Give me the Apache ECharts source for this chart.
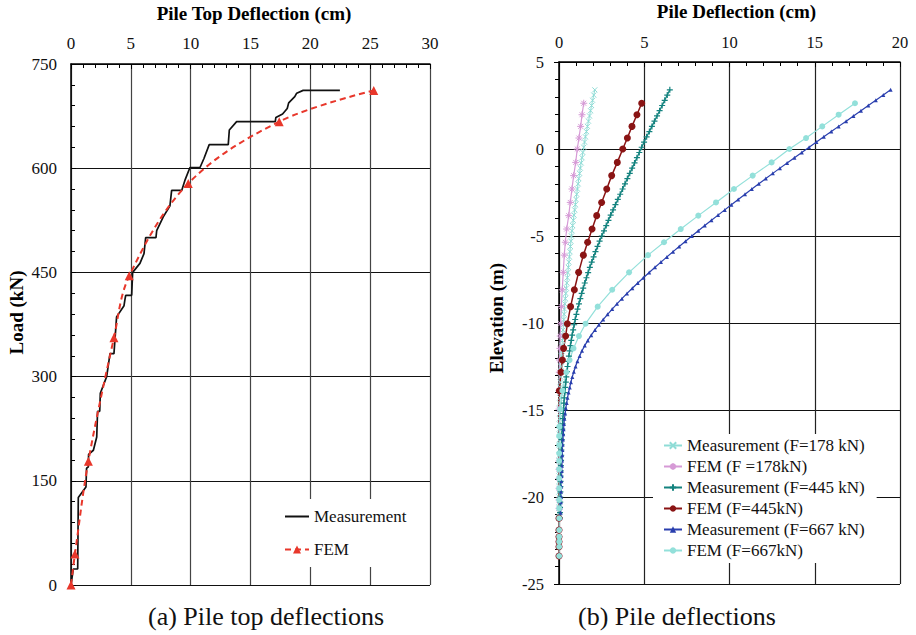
<!DOCTYPE html>
<html>
<head>
<meta charset="utf-8">
<script src="https://cdn.jsdelivr.net/npm/echarts@6/dist/echarts.min.js"></script>
<style>
html,body{margin:0;padding:0;background:#fff;}
#chart{width:916px;height:635px;}
</style>
</head>
<body>
<div id="chart"></div>
<script>
// ---------- (a) Pile top deflections ----------
const topMeasDefl = [0, 0.19, 0.56, 0.61, 1.25, 1.30, 1.45, 1.47, 1.87, 2.15, 2.22, 2.40, 2.45, 2.98, 3.26, 3.59, 3.81, 4.43, 4.50, 4.57, 5.07, 5.15, 5.76, 6.10, 6.24, 7.10, 7.16, 7.71, 8.27, 8.41, 9.25, 9.55, 9.94, 10.78, 11.11, 11.55, 13.14, 13.23, 13.84, 17.07, 17.12, 17.68, 18.07, 18.19, 18.70, 18.86, 19.40, 22.47];
const topMeasLoad = [0, 23, 23, 126, 141, 168, 170, 188, 194, 213, 250, 250, 276, 300, 333, 333, 386, 402, 410, 417, 417, 450, 463, 477, 500, 500, 510, 530, 546, 568, 568, 584, 601, 601, 614, 634, 634, 655, 667, 667, 673, 678, 686, 694, 703, 708, 712, 712];
const topFemDefl = [0, 0.33, 1.45, 3.59, 4.87, 9.8, 17.4, 25.3];
const topFemLoad = [0, 44.5, 178, 356, 445, 578, 667, 712];
const topXTicks = [0, 5, 10, 15, 20, 25, 30];
const topYTicks = [0, 150, 300, 450, 600, 750];

// ---------- (b) Pile deflections ----------
const measElev = [3.4, 3.1, 2.8, 2.5, 2.2, 1.9, 1.6, 1.3, 1.0, 0.7,
  0.4, 0.1, -0.2, -0.5, -0.8, -1.1, -1.4, -1.7, -2.0, -2.3,
  -2.6, -2.9, -3.2, -3.5, -3.8, -4.1, -4.4, -4.7, -5.0, -5.3,
  -5.6, -5.9, -6.2, -6.5, -6.8, -7.1, -7.4, -7.7, -8.0, -8.3,
  -8.6, -8.9, -9.2, -9.5, -9.8, -10.1, -10.4, -10.7, -11.0, -11.3,
  -11.6, -11.9, -12.2, -12.5, -12.8, -13.1, -13.4, -13.7, -14.0, -14.3,
  -14.6, -14.9, -15.2, -15.5, -15.8, -16.1, -16.4, -16.7, -17.0, -17.3,
  -17.6, -17.9, -18.2, -18.5, -18.8, -19.1, -19.4, -19.7, -20.0, -20.3,
  -20.6, -20.9, -21.2];
const meas178 = [2.10, 2.04, 1.97, 1.91, 1.85, 1.79, 1.73, 1.67, 1.61, 1.55,
  1.50, 1.45, 1.40, 1.35, 1.30, 1.25, 1.21, 1.16, 1.12, 1.08,
  1.04, 1.00, 0.96, 0.92, 0.88, 0.84, 0.80, 0.76, 0.73, 0.70,
  0.67, 0.64, 0.61, 0.58, 0.55, 0.52, 0.49, 0.46, 0.43, 0.40,
  0.37, 0.34, 0.32, 0.30, 0.28, 0.26, 0.24, 0.22, 0.20, 0.18,
  0.17, 0.15, 0.14, 0.12, 0.11, 0.09, 0.08, 0.07, 0.06, 0.05,
  0.04, 0.04, 0.03, 0.03, 0.02, 0.02, 0.02, 0.02, 0.02, 0.02,
  0.01, 0.01, 0.01, 0.01, 0.01, 0.01, 0.01, 0.01, 0.01, 0.01,
  0.01, 0.01, 0.01];
const meas445 = [6.50, 6.35, 6.20, 6.05, 5.90, 5.75, 5.60, 5.45, 5.30, 5.14,
  4.99, 4.85, 4.71, 4.57, 4.43, 4.29, 4.15, 4.01, 3.87, 3.73,
  3.59, 3.45, 3.31, 3.17, 3.03, 2.90, 2.77, 2.64, 2.51, 2.38,
  2.26, 2.14, 2.03, 1.92, 1.81, 1.71, 1.61, 1.51, 1.42, 1.33,
  1.25, 1.17, 1.09, 1.02, 0.95, 0.89, 0.83, 0.77, 0.72, 0.67,
  0.62, 0.58, 0.54, 0.50, 0.46, 0.43, 0.40, 0.37, 0.34, 0.31,
  0.29, 0.27, 0.25, 0.23, 0.21, 0.19, 0.17, 0.16, 0.15, 0.14,
  0.13, 0.12, 0.11, 0.10, 0.09, 0.09, 0.08, 0.08, 0.07, 0.07,
  0.06, 0.06, 0.05];
const meas667 = [19.45, 19.02, 18.58, 18.14, 17.71, 17.27, 16.84, 16.40, 15.97, 15.53,
  15.10, 14.67, 14.24, 13.81, 13.38, 12.96, 12.54, 12.13, 11.72, 11.31,
  10.91, 10.51, 10.11, 9.72, 9.33, 8.94, 8.55, 8.17, 7.79, 7.42,
  7.05, 6.69, 6.33, 5.98, 5.63, 5.29, 4.95, 4.62, 4.30, 3.99,
  3.69, 3.40, 3.12, 2.85, 2.59, 2.34, 2.11, 1.89, 1.69, 1.51,
  1.35, 1.21, 1.08, 0.97, 0.87, 0.78, 0.70, 0.63, 0.56, 0.50,
  0.45, 0.40, 0.36, 0.32, 0.29, 0.27, 0.25, 0.23, 0.21, 0.20,
  0.19, 0.18, 0.17, 0.16, 0.15, 0.14, 0.13, 0.12, 0.12, 0.11,
  0.10, 0.10, 0.09];
const femElev = [2.63, 1.97, 1.30, 0.63, 0, -0.77, -1.53, -2.30, -3.07, -3.83,
  -4.60, -5.36, -6.10, -7.09, -8.09, -9.06, -10.04, -10.75, -11.46, -12.13,
  -12.83, -13.89, -14.95, -15.96, -16.49, -17.01, -17.49, -17.93, -18.41, -18.93,
  -19.50, -20.17, -20.65, -21.22, -21.90, -22.28, -22.57, -22.86, -23.39];
const fem178 = [1.45, 1.35, 1.27, 1.17, 1.07, 0.98, 0.86, 0.76, 0.66, 0.57,
  0.45, 0.37, 0.31, 0.25, 0.19, 0.14, 0.10, 0.07, 0.05, 0.03,
  0.02, 0.01, 0, -0.01, -0.01, -0.01, -0.01, 0, 0, 0,
  0, 0, 0, 0, 0, 0, 0, 0, 0];
const fem445 = [4.85, 4.57, 4.28, 4.01, 3.74, 3.42, 3.09, 2.80, 2.50, 2.21,
  1.94, 1.68, 1.43, 1.15, 0.90, 0.68, 0.49, 0.39, 0.27, 0.20,
  0.12, 0.02, -0.06, -0.08, -0.07, -0.06, -0.05, -0.04, -0.03, -0.02,
  -0.02, -0.01, -0.01, 0, 0, 0, 0, 0, 0];
const fem667 = [17.36, 16.40, 15.44, 14.49, 13.51, 12.47, 11.36, 10.26, 9.21, 8.17,
  7.14, 6.16, 5.22, 4.11, 3.12, 2.27, 1.56, 1.17, 0.85, 0.62,
  0.43, 0.20, 0.08, 0.02, 0.01, 0.01, 0.01, 0.01, 0.01, 0.01,
  0.01, 0.01, 0.01, 0.01, 0.01, 0.01, 0.01, 0.01, 0.01];
const pileXTicks = [0, 5, 10, 15, 20];
const pileYTicks = [-25, -20, -15, -10, -5, 0, 5];

const FONT = 'Liberation Serif, Times New Roman, serif';
const pairs = (xs, ys) => xs.map((v, i) => [v, ys[i]]);

const CROSS = 'path://M0,0L10,10M10,0L0,10';
const ASTER = 'path://M5,0L5,10M0,5L10,5M1.5,1.5L8.5,8.5M8.5,1.5L1.5,8.5';
const PLUS = 'path://M5,0L5,10M0,5L10,5';

const C_LCYAN = '#8fdcd6';
const C_PINK = '#d69ad6';
const C_TEAL = '#14837f';
const C_DRED = '#8a1414';
const C_BLUE = '#2a3fae';
const C_FCYAN = '#93e0da';

function axisCommon(extra, namePad) {
  return Object.assign({
    type: 'value',
    axisLine: { show: true, onZero: false, lineStyle: { color: '#000', width: 1.5 } },
    nameTextStyle: { color: '#000', fontFamily: FONT, fontSize: 19, fontWeight: 'bold', padding: namePad },
    nameLocation: 'middle'
  }, extra);
}

const option = {
  animation: false,
  backgroundColor: '#fff',
  textStyle: { fontFamily: FONT },
  grid: [
    { left: 71, top: 64, width: 359, height: 521, containLabel: false, outerBoundsMode: 'none' },
    { left: 559, top: 62, width: 341, height: 522, containLabel: false, outerBoundsMode: 'none' }
  ],
  xAxis: [
    axisCommon({
      gridIndex: 0, position: 'top', min: topXTicks[0], max: topXTicks[topXTicks.length - 1], interval: 5,
      name: 'Pile Top Deflection (cm)', nameGap: 41,
      axisTick: { show: true, inside: true, length: 5, lineStyle: { color: '#000' } },
      minorTick: { show: true, splitNumber: 5, length: 4, lineStyle: { color: '#000' } },
      axisLabel: { color: '#111', fontFamily: FONT, fontSize: 17, margin: 12 },
      splitLine: { show: true, lineStyle: { color: '#444', width: 1.2 } }
    }, [0, 0, 0, 7]),
    axisCommon({
      gridIndex: 1, position: 'top', min: pileXTicks[0], max: pileXTicks[pileXTicks.length - 1], interval: 5,
      name: 'Pile Deflection (cm)', nameGap: 41,
      axisTick: { show: true, inside: true, length: 5, lineStyle: { color: '#000' } },
      minorTick: { show: true, splitNumber: 5, length: 4, lineStyle: { color: '#000' } },
      axisLabel: { color: '#111', fontFamily: FONT, fontSize: 16.5, margin: 11 },
      splitLine: { show: true, lineStyle: { color: '#222', width: 1.2 } }
    }, [0, 0, 0, 14])
  ],
  yAxis: [
    axisCommon({
      gridIndex: 0, min: topYTicks[0], max: topYTicks[topYTicks.length - 1], interval: 150,
      name: 'Load (kN)', nameGap: 45,
      axisTick: { show: true, inside: true, length: 5, lineStyle: { color: '#000' } },
      minorTick: { show: true, splitNumber: 5, length: 4, lineStyle: { color: '#000' } },
      axisLabel: { color: '#111', fontFamily: FONT, fontSize: 17, margin: 14 },
      splitLine: { show: true, lineStyle: { color: '#111', width: 1.2 } }
    }, [0, 0, 0, 24]),
    axisCommon({
      gridIndex: 1, min: pileYTicks[0], max: pileYTicks[pileYTicks.length - 1], interval: 5,
      name: 'Elevation (m)', nameGap: 53,
      axisTick: { show: true, inside: false, length: 5, lineStyle: { color: '#000' } },
      minorTick: { show: true, splitNumber: 5, length: 4, lineStyle: { color: '#000' } },
      axisLabel: { color: '#111', fontFamily: FONT, fontSize: 16.5, margin: 15 },
      splitLine: { show: true, lineStyle: { color: '#111', width: 1.2 } }
    }, [0, 0, 0, 10])
  ],
  legend: [
    {
      left: 283, top: 499, orient: 'vertical',
      backgroundColor: '#fff', padding: [9, 4, 9, 1], itemGap: 16,
      itemWidth: 24, itemHeight: 10,
      textStyle: { fontFamily: FONT, fontSize: 17, color: '#111', lineHeight: 17 },
      data: [{ name: 'Measurement', itemStyle: { opacity: 0 } }, 'FEM']
    },
    {
      left: 653, top: 434, orient: 'vertical',
      backgroundColor: '#fff', padding: [3, 12, 4, 10], itemGap: 4,
      itemWidth: 18, itemHeight: 8,
      textStyle: { fontFamily: FONT, fontSize: 17, color: '#111', lineHeight: 17 },
      data: ['Measurement (F=178 kN)', 'FEM (F =178kN)', 'Measurement (F=445 kN)', 'FEM (F=445kN)', 'Measurement (F=667 kN)', 'FEM (F=667kN)']
    }
  ],
  graphic: [
    { type: 'text', left: 148, top: 603, style: { text: '(a) Pile top deflections', fontFamily: FONT, fontSize: 26, fill: '#111' } },
    { type: 'text', left: 578, top: 603, style: { text: '(b) Pile deflections', fontFamily: FONT, fontSize: 26, fill: '#111' } }
  ],
  series: [
    {
      name: 'Measurement', type: 'line', xAxisIndex: 0, yAxisIndex: 0,
      data: pairs(topMeasDefl, topMeasLoad), symbol: 'none',
      lineStyle: { color: '#111', width: 1.7 }, itemStyle: { color: '#111' }, z: 3
    },
    {
      name: 'FEM', type: 'line', xAxisIndex: 0, yAxisIndex: 0,
      data: pairs(topFemDefl, topFemLoad), smooth: 0.35,
      symbol: 'triangle', symbolSize: 9,
      lineStyle: { color: '#e8372b', width: 2, type: [6, 4] },
      itemStyle: { color: '#e8372b', borderWidth: 0 }, z: 4
    },
    {
      name: 'Measurement (F=178 kN)', type: 'line', xAxisIndex: 1, yAxisIndex: 1,
      data: pairs(meas178, measElev), symbol: CROSS, symbolSize: 5,
      lineStyle: { color: C_LCYAN, width: 1 },
      itemStyle: { color: C_LCYAN, borderColor: C_LCYAN, borderWidth: 1 }
    },
    {
      name: 'FEM (F =178kN)', type: 'line', xAxisIndex: 1, yAxisIndex: 1,
      data: pairs(fem178, femElev), symbol: ASTER, symbolSize: 7,
      lineStyle: { color: C_PINK, width: 1.2 },
      itemStyle: { color: C_PINK, borderColor: C_PINK, borderWidth: 1 }
    },
    {
      name: 'Measurement (F=445 kN)', type: 'line', xAxisIndex: 1, yAxisIndex: 1,
      data: pairs(meas445, measElev), symbol: PLUS, symbolSize: 6,
      lineStyle: { color: C_TEAL, width: 1.3 },
      itemStyle: { color: C_TEAL, borderColor: C_TEAL, borderWidth: 1.2 }
    },
    {
      name: 'FEM (F=445kN)', type: 'line', xAxisIndex: 1, yAxisIndex: 1,
      data: pairs(fem445, femElev), symbol: 'circle', symbolSize: 7,
      lineStyle: { color: C_DRED, width: 1.5 },
      itemStyle: { color: C_DRED, borderWidth: 0 }
    },
    {
      name: 'Measurement (F=667 kN)', type: 'line', xAxisIndex: 1, yAxisIndex: 1,
      data: pairs(meas667, measElev), symbol: 'triangle', symbolSize: 4,
      lineStyle: { color: C_BLUE, width: 1.2 },
      itemStyle: { color: C_BLUE, borderWidth: 0 }
    },
    {
      name: 'FEM (F=667kN)', type: 'line', xAxisIndex: 1, yAxisIndex: 1,
      data: pairs(fem667, femElev), symbol: 'circle', symbolSize: 6,
      lineStyle: { color: C_FCYAN, width: 1.2 },
      itemStyle: { color: C_FCYAN, borderWidth: 0 }
    }
  ]
};

const chart = echarts.init(document.getElementById('chart'), null, { renderer: 'svg' });
chart.setOption(option);
</script>
</body>
</html>
